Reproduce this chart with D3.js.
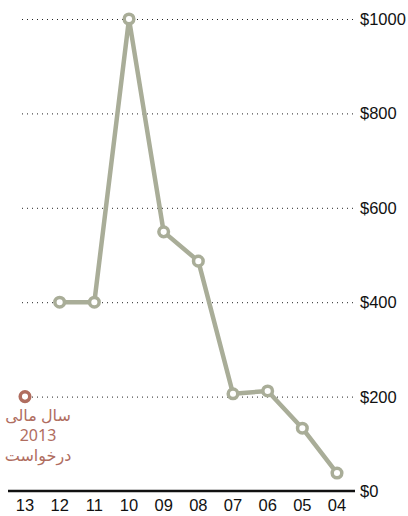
<!DOCTYPE html>
<html><head><meta charset="utf-8">
<script src="https://cdn.jsdelivr.net/npm/d3@7"></script>
<style>body{margin:0;background:#fff}svg{display:block}</style>
</head><body>
<svg id="c" width="408" height="516"></svg>
<script>
const years = ["13","12","11","10","09","08","07","06","05","04"];
const values = [null, 400, 400, 1000, 549, 487, 206, 212, 133, 38];
const requestValue = 200;
const requestLabel = ["سال مالی","2013","درخواست"];
const yTicks = [0,200,400,600,800,1000];

const svg = d3.select("#c");
const x = d3.scalePoint().domain(years).range([25, 337]);
const y = d3.scaleLinear().domain([0,1000]).range([491, 19]);
const lineColor = "#a9ad98";
const redColor = "#b06d5f";

// gridlines
svg.append("g").selectAll("line").data(yTicks.filter(d=>d>0)).join("line")
  .attr("x1", 22).attr("x2", 354)
  .attr("y1", d=>y(d)+0.5).attr("y2", d=>y(d)+0.5)
  .attr("stroke", "#222").attr("stroke-width", 1).attr("stroke-dasharray", "1,4");

// baseline
svg.append("line").attr("x1", 8).attr("x2", 355).attr("y1", y(0)).attr("y2", y(0))
  .attr("stroke", "#111").attr("stroke-width", 2.5);

// y labels
svg.append("g").selectAll("text").data(yTicks).join("text")
  .attr("x", 360).attr("y", d=>y(d)).attr("dy", "0.36em")
  .attr("font-family", "Liberation Sans, Arial, sans-serif").attr("font-size", 16.5)
  .attr("fill", "#111").text(d=>"$"+d);

// x labels
svg.append("g").selectAll("text").data(years).join("text")
  .attr("x", d=>x(d)).attr("y", 511)
  .attr("text-anchor", "middle")
  .attr("font-family", "Liberation Sans, Arial, sans-serif").attr("font-size", 16.5)
  .attr("fill", "#111").text(d=>d);

// line
const pts = years.map((yr,i)=>({yr, v: values[i]})).filter(d=>d.v!=null);
svg.append("path").datum(pts)
  .attr("d", d3.line().x(d=>x(d.yr)).y(d=>y(d.v)))
  .attr("fill", "none").attr("stroke", lineColor).attr("stroke-width", 4.5)
  .attr("stroke-linejoin", "round");
svg.append("g").selectAll("circle").data(pts).join("circle")
  .attr("cx", d=>x(d.yr)).attr("cy", d=>y(d.v)).attr("r", 4.8)
  .attr("fill", "#fff").attr("stroke", lineColor).attr("stroke-width", 3.5);

// request point
svg.append("circle").attr("cx", x("13")).attr("cy", y(requestValue)).attr("r", 4.8)
  .attr("fill", "#fff").attr("stroke", redColor).attr("stroke-width", 3.5);
svg.append("g").selectAll("text").data(requestLabel).join("text")
  .attr("x", 38).attr("y", (d,i)=>421 + i*20)
  .attr("text-anchor", "middle")
  .attr("font-family", "Noto Sans, DejaVu Sans, sans-serif").attr("font-size", 16)
  .attr("fill", redColor).text(d=>d);
</script>
</body></html>
